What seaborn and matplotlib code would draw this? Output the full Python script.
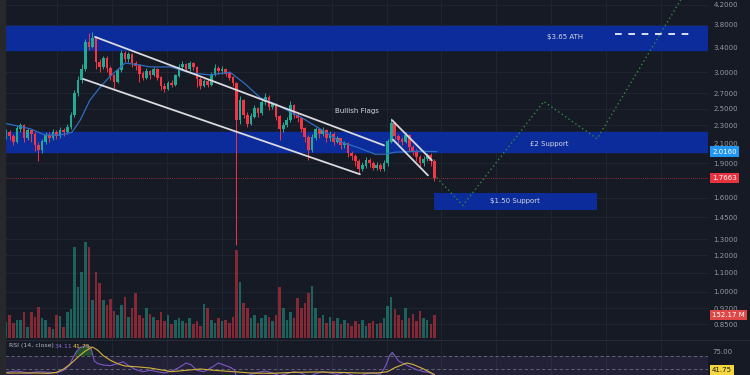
import matplotlib
matplotlib.use("Agg")
import matplotlib.pyplot as plt
import matplotlib.transforms as mtransforms
from matplotlib.patches import Rectangle
from matplotlib.ticker import NullLocator, NullFormatter
import numpy as np
import seaborn as sns

# --- chart data ---
first_open = 2.20
closes = [2.22, 2.18, 2.12, 2.26, 2.30, 2.16, 2.24, 2.20, 2.08, 2.03,
          2.12, 2.19, 2.16, 2.22, 2.18, 2.24, 2.22, 2.28, 2.42, 2.70,
          2.88, 3.05, 3.48, 3.40, 3.55, 3.15, 3.08, 3.22, 3.06, 2.95,
          2.86, 3.03, 3.30, 3.20, 3.28, 3.14, 3.10, 2.98, 2.92, 3.02,
          2.96, 3.04, 2.92, 2.80, 2.76, 2.84, 2.82, 2.95, 3.08, 3.12,
          3.05, 3.14, 3.08, 2.90, 2.80, 2.86, 2.82, 2.96, 3.06, 3.02,
          3.04, 2.98, 2.92, 2.84, 2.36, 2.60, 2.42, 2.32, 2.40, 2.50,
          2.44, 2.58, 2.65, 2.52, 2.55, 2.40, 2.26, 2.30, 2.36, 2.54,
          2.42, 2.38, 2.26, 2.17, 2.03, 2.16, 2.25, 2.20, 2.24, 2.16,
          2.20, 2.12, 2.15, 2.08, 2.10, 2.00, 1.97, 1.92, 1.85, 1.88,
          1.93, 1.90, 1.86, 1.88, 1.85, 1.90, 2.12, 2.32, 2.18, 2.14,
          2.12, 2.19, 2.06, 2.02, 1.96, 1.90, 1.94, 1.98, 1.92, 1.7663]
highs = [2.26, 2.25, 2.20, 2.30, 2.33, 2.31, 2.27, 2.26, 2.22, 2.12,
         2.15, 2.22, 2.22, 2.26, 2.25, 2.28, 2.27, 2.32, 2.46, 2.74,
         2.95, 3.12, 3.55, 3.65, 3.66, 3.60, 3.20, 3.26, 3.25, 3.10,
         2.98, 3.06, 3.36, 3.34, 3.32, 3.30, 3.18, 3.12, 3.02, 3.06,
         3.04, 3.08, 3.06, 2.94, 2.84, 2.87, 2.88, 2.98, 3.12, 3.18,
         3.14, 3.18, 3.16, 3.10, 2.93, 2.90, 2.90, 3.00, 3.12, 3.10,
         3.10, 3.06, 3.00, 2.95, 2.86, 2.66, 2.62, 2.46, 2.44, 2.54,
         2.52, 2.62, 2.70, 2.67, 2.59, 2.57, 2.42, 2.34, 2.40, 2.60,
         2.56, 2.45, 2.40, 2.28, 2.19, 2.20, 2.28, 2.27, 2.28, 2.26,
         2.23, 2.22, 2.18, 2.16, 2.13, 2.12, 2.02, 1.99, 1.94, 1.91,
         1.96, 1.95, 1.92, 1.91, 1.90, 1.93, 2.15, 2.38, 2.34, 2.20,
         2.17, 2.22, 2.20, 2.08, 2.04, 1.98, 1.97, 2.00, 2.00, 1.94]
lows = [2.15, 2.14, 2.08, 2.10, 2.22, 2.12, 2.14, 2.12, 2.02, 1.92,
        2.00, 2.09, 2.12, 2.14, 2.15, 2.16, 2.18, 2.20, 2.26, 2.40,
        2.66, 2.84, 3.02, 3.36, 3.38, 3.05, 3.00, 3.05, 3.00, 2.88,
        2.74, 2.84, 3.00, 3.15, 3.16, 3.08, 3.04, 2.86, 2.88, 2.90,
        2.90, 2.94, 2.88, 2.74, 2.72, 2.74, 2.78, 2.80, 2.93, 3.04,
        3.00, 3.02, 3.03, 2.78, 2.76, 2.78, 2.79, 2.80, 2.94, 2.98,
        2.98, 2.94, 2.88, 2.80, 1.26, 2.32, 2.38, 2.28, 2.30, 2.38,
        2.40, 2.42, 2.55, 2.48, 2.49, 2.36, 2.14, 2.22, 2.28, 2.34,
        2.38, 2.34, 2.22, 2.12, 1.93, 2.01, 2.14, 2.16, 2.18, 2.12,
        2.13, 2.08, 2.10, 2.04, 2.05, 1.96, 1.93, 1.88, 1.80, 1.83,
        1.86, 1.87, 1.84, 1.84, 1.83, 1.83, 1.88, 2.10, 2.15, 2.10,
        2.08, 2.10, 2.02, 1.98, 1.92, 1.86, 1.88, 1.92, 1.88, 1.74]
volume_m = [105, 150, 100, 120, 120, 170, 72, 170, 140, 205,
            130, 120, 72, 60, 150, 145, 72, 170, 190, 600,
            336, 435, 634, 600, 250, 435, 360, 250, 220, 257,
            180, 150, 220, 270, 140, 200, 300, 150, 130, 200,
            160, 140, 120, 170, 110, 150, 90, 120, 130, 110,
            100, 130, 90, 110, 80, 225, 200, 120, 100, 130,
            110, 120, 100, 140, 580, 370, 230, 200, 130, 150,
            100, 130, 150, 140, 110, 150, 336, 200, 120, 170,
            130, 264, 200, 230, 300, 343, 200, 130, 150, 100,
            140, 110, 130, 90, 120, 100, 80, 110, 90, 120,
            80, 100, 110, 90, 100, 130, 210, 270, 190, 150,
            120, 200, 130, 160, 110, 180, 130, 120, 90, 152.17]

ma_idx = [0, 6.7, 10.8, 15, 18.3, 20.6, 23.3, 26.1, 28.9, 33.1, 37.2, 40, 45.6, 51.1,
          56.7, 62.2, 66.4, 70.6, 74.7, 78.9, 81.7, 87.2, 92.8, 98.3, 102.5, 105.3,
          108.1, 115, 119.7]
ma_val = [2.32, 2.26, 2.19, 2.19, 2.22, 2.36, 2.61, 2.78, 2.94, 3.14, 3.11, 3.08, 3.08, 2.99,
          2.96, 3.00, 2.83, 2.64, 2.56, 2.46, 2.40, 2.26, 2.12, 2.05, 1.99, 1.99,
          2.01, 2.02, 2.016]

# drawn trend lines (candle index, price)
flag_upper = ([24.7, 105.0], [3.58, 2.08])
flag_lower = ([21.4, 98.3], [2.90, 1.80])
small_upper = ([107.2, 118.3], [2.36, 1.93])
small_lower = ([107.5, 117.2], [2.14, 1.79])
path_idx = [119.6, 126.9, 149.4, 164.2, 188.5]
path_val = [1.77, 1.54, 2.59, 2.15, 4.45]

rsi_idx = [0, 3, 6, 9, 12, 14, 16, 17.5, 18.5, 19.5, 20.5, 21.5, 22.5, 23.5, 24.5, 25.5, 27,
           29, 31, 32.5, 34, 36, 38, 40, 42, 44, 46, 48, 50, 51.5, 53, 55, 57, 59, 61, 62.5,
           63.5, 64.3, 66, 68, 70, 72, 74, 76, 78, 80, 82, 84, 86, 88, 90, 92, 94, 96, 98,
           100, 102, 104, 105.5, 106.5, 107.3, 108, 109, 110.5, 112, 114, 116, 117.5, 118.5, 119]
rsi_val = [45, 47, 44, 46, 45, 44, 48, 55, 66, 76, 82, 84, 85, 83, 62, 58, 56,
           55, 58, 61, 55, 49, 46, 48, 46, 44, 47, 52, 59, 56, 48, 46, 52, 59, 55, 52,
           48, 30, 36, 42, 45, 47, 44, 40, 43, 46, 44, 38, 43, 46, 44, 42, 45, 41, 38,
           43, 44, 42, 55, 70, 75, 70, 62, 58, 54, 49, 46, 45, 42, 34.11]
rsi_ma_idx = [0, 8, 12, 14, 16, 18, 20, 22, 24, 25.5, 27, 29, 31, 33, 37, 40, 46, 50, 54, 58,
              63, 68, 74, 80, 86, 92, 98, 103, 106, 108, 111.3, 113, 116, 119]
rsi_ma_val = [44, 44, 43.5, 45, 50, 58, 68, 77, 83, 78, 70, 63, 58, 54.5, 53, 51.5, 46, 48, 50,
              48, 46, 44, 43.5, 45, 45.5, 45, 44, 44, 46, 52, 59, 57, 50, 41.75]

price_ticks = [4.2, 3.8, 3.4, 3.0, 2.7, 2.5, 2.3, 2.1, 1.9, 1.6, 1.45, 1.3, 1.2, 1.1, 1.0, 0.92, 0.85]

# --- style ---
BG = "#161a25"
GRID = "#222634"
ZONE = "#0c2c9c"
UP, DOWN = "#22ab94", "#f23645"
TXT = "#9598a1"

sns.set_theme(style="dark", rc={"axes.facecolor": BG, "figure.facecolor": BG})
plt.rcParams["font.family"] = ["DejaVu Sans"]

W, H = 750, 375
fig = plt.figure(figsize=(7.5, 3.75), dpi=100)
ax = fig.add_axes([5 / W, 35 / H, 703 / W, 340 / H])
ax_v = ax.twinx()  # volume overlay, made first so price ticks stay on the right
ax_rsi = fig.add_axes([5 / W, 0, 703 / W, 35 / H])
fig.patches.append(Rectangle((0, 0), 5 / W, 1, transform=fig.transFigure, color="#27282c"))

idx = np.arange(len(closes))
opens = [first_open] + closes[:-1]
cols = [UP if c >= o else DOWN for o, c in zip(opens, closes)]

ax.set_yscale("log")
ax.set_xlim(-0.3, 195)
ax.set_ylim(0.785, 4.306)
grid_x = np.arange(14.2, 195, 15.25)
for a in (ax, ax_rsi):
    a.set_xticks(grid_x)
    a.tick_params(axis="x", labelbottom=False, length=0)
    a.grid(True, color=GRID, linewidth=0.6)
    a.set_axisbelow(True)
    for s in a.spines.values():
        s.set_visible(False)

ax.yaxis.tick_right()
ax.set_yticks(price_ticks, labels=[f"{t:.4f}" for t in price_ticks])
ax.yaxis.set_minor_locator(NullLocator())
ax.yaxis.set_minor_formatter(NullFormatter())
ax.tick_params(axis="y", which="both", length=0, pad=4, labelsize=5, labelcolor=TXT,
               labelleft=False, labelright=True)

# support / ATH zones
ax.axhspan(3.35, 3.78, color=ZONE, zorder=1)
ax.axhspan(2.01, 2.22, color=ZONE, zorder=1)
ax.fill_between([118.9, 164.2], 1.505, 1.64, color=ZONE, zorder=1, linewidth=0)

ax.axhline(1.7663, color="#b8323e", linestyle=(0, (1, 1.5)), linewidth=0.6, zorder=2)

# candles
ax.vlines(idx, lows, highs, colors=cols, linewidth=0.7, zorder=3)
ax.bar(idx, [abs(c - o) + 0.004 for o, c in zip(opens, closes)],
       bottom=[min(o, c) for o, c in zip(opens, closes)],
       width=0.75, color=cols, linewidth=0, zorder=3)

sns.lineplot(x=ma_idx, y=ma_val, ax=ax, color="#2f6cc0", linewidth=0.9, sort=False,
             estimator=None, zorder=4)

for xs, ys in (flag_upper, flag_lower, small_upper, small_lower):
    sns.lineplot(x=xs, y=ys, ax=ax, color="#d9d9de", linewidth=1.3, sort=False,
                 estimator=None, zorder=5)

sns.lineplot(x=path_idx, y=path_val, ax=ax, color="#2e8c3c", linewidth=1.0,
             linestyle=(0, (1, 2)), sort=False, estimator=None, zorder=5)
ax.plot([169.2, 191.4], [3.64, 3.64], color="white", linewidth=1.2,
        linestyle=(0, (4, 4)), zorder=5)

tkw = dict(fontsize=5, color="#d4d7e0", ha="center", va="center", zorder=6)
ax.text(155.3, 3.57, "$3.65 ATH", **tkw)
ax.text(150.8, 2.094, "£2 Support", **tkw)
ax.text(141.4, 1.574, "$1.50 Support", **tkw)
ax.text(97.5, 2.47, "Bullish Flags", **tkw)

# volume bars
ax_v.set_ylim(-13, 2231)
ax_v.set_yticks([])
for s in ax_v.spines.values():
    s.set_visible(False)
ax_v.bar(idx, volume_m, width=0.7, color=cols, alpha=0.5, linewidth=0)

# right-hand price labels
trans = mtransforms.blended_transform_factory(ax.transAxes, ax.transData)
lbl = dict(fontsize=5, ha="left", va="center", transform=trans)
ax.text(1.006, 2.016, "2.0160", color="white",
        bbox=dict(boxstyle="square,pad=0.35", fc="#2196f3", ec="none"), **lbl)
ax.text(1.006, 1.7663, "1.7663", color="white",
        bbox=dict(boxstyle="square,pad=0.35", fc="#e8323f", ec="none"), **lbl)
trans_v = mtransforms.blended_transform_factory(ax_v.transAxes, ax_v.transData)
ax_v.text(1.006, 152.17, "152.17 M", color="white", fontsize=5, ha="left", va="center",
          transform=trans_v, bbox=dict(boxstyle="square,pad=0.35", fc="#e04848", ec="none"))

# RSI pane
ax_rsi.set_xlim(-0.3, 195)
ax_rsi.set_ylim(41, 93.5)
ax_rsi.set_yticks([])
ax_rsi.axhspan(30, 70, color="#7e57c2", alpha=0.12, linewidth=0)
ax_rsi.axhline(70, color="#6b6e7a", linestyle=(0, (4, 3)), linewidth=0.6)
ax_rsi.axhline(50, color="#6b6e7a", linestyle=(0, (4, 3)), linewidth=0.6)
rsi_arr = np.array(rsi_val)
ax_rsi.fill_between(rsi_idx, 70, rsi_arr, where=rsi_arr > 70, interpolate=True,
                    color="#2e7d32", alpha=0.55, linewidth=0)
sns.lineplot(x=rsi_idx, y=rsi_val, ax=ax_rsi, color="#7e57c2", linewidth=0.8,
             sort=False, estimator=None)
sns.lineplot(x=rsi_ma_idx, y=rsi_ma_val, ax=ax_rsi, color="#d4b23a", linewidth=0.8,
             sort=False, estimator=None)
trans_r = mtransforms.blended_transform_factory(ax_rsi.transAxes, ax_rsi.transData)
ax_rsi.text(1.006, 75, "75.00", color=TXT, fontsize=5, ha="left", va="center", transform=trans_r)
fig.text(712 / W, 1 - 370 / H, "41.75", color="#1a1a1a", fontsize=5, ha="left", va="center",
         bbox=dict(boxstyle="square,pad=0.3", fc="#f5d63d", ec="none"))
fig.text(9 / W, 1 - 346 / H, "RSI (14, close)", color="#b2b5be", fontsize=4.5, va="center")
fig.text(55 / W, 1 - 346 / H, "34.11", color="#8e6ad6", fontsize=4.5, va="center")
fig.text(73 / W, 1 - 346 / H, "41.75", color="#e8c440", fontsize=4.5, va="center")
fig.add_artist(plt.Line2D([5 / W, 1], [1 - 339.5 / H] * 2, color="#262a36", linewidth=0.8))

fig.savefig("out.png", dpi=100, facecolor=BG)
